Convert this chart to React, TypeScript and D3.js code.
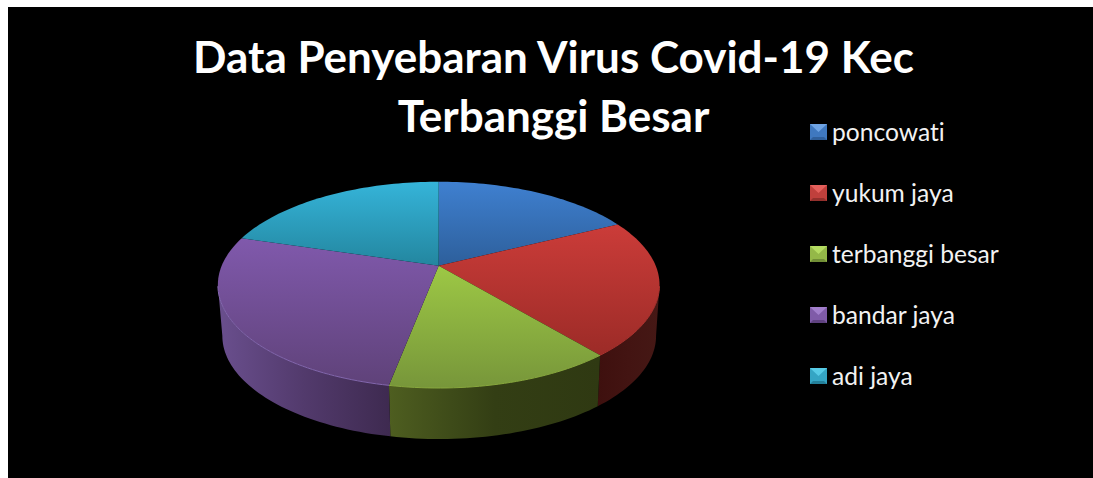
import React from 'react';
import * as d3 from 'd3';

const categories = ['poncowati', 'yukum jaya', 'terbanggi besar', 'bandar jaya', 'adi jaya'];
const shares = [17.6, 21.4, 14.0, 26.7, 20.3];
const titleLines = ['Data Penyebaran Virus Covid-19 Kec', 'Terbanggi Besar'];

// top face gradient (light, dark), side wall gradient (left, middle, right), legend tile
const topColors = [['#3f80d0', '#2d5f9b'], ['#cb3c39', '#9c2b27'], ['#9dc845', '#77963a'], ['#8059ac', '#5f4279'], ['#35b4d9', '#23869f']];
const sideColors = [['#1d3557', '#1d3557', '#1d3557'], ['#3e100e', '#431412', '#451815'], ['#4e5e20', '#333e14', '#2f3912'], ['#6a4f8e', '#523a6c', '#3e2a50'], ['#1a5566', '#1a5566', '#1a5566']];
const rimColors = ['#3f80d0', '#a8322e', '#88a83e', '#8367ae', '#35b4d9'];
const legendColors = [['#6fa4e4', '#3f78bf', '#2f5f9b'], ['#e4605c', '#c0403c', '#93302c'], ['#b5dc62', '#94b848', '#718e36'], ['#a27fcc', '#7f5ba8', '#5f4280'], ['#58cbe6', '#35a5c4', '#23809a']];

const width = 1093;
const height = 478;

// the pie is a 3D disc, so rim points go through a perspective mapping
const cx = 438.7;
const apexY = 265.7;
const persp = -0.1857;
const scaleX = 217;
const scaleY = 99.6;
const depth = 51;
const baseShrink = 0.982;
// angle at which the rim is widest on screen, the wall starts there
const wallStart = Math.acos(persp);

function topPoint(angle: number): [number, number] {
  const u = Math.sin(angle);
  const v = -Math.cos(angle);
  const w = 1 + persp * v;
  return [cx + (scaleX * u) / w, apexY + (scaleY * v) / w];
}

function basePoint(angle: number): [number, number] {
  const u = Math.sin(angle);
  const v = -Math.cos(angle);
  const w = 1 + persp * v;
  return [cx + 0.5 + (baseShrink * scaleX * u) / w, apexY + depth + (scaleY * v) / w];
}

const line = d3.line();
const pie = d3.pie<number>().sort(null)(shares);

function sampleAngles(a0: number, a1: number) {
  const n = Math.max(2, Math.ceil((a1 - a0) * 40));
  return d3.range(n + 1).map((i) => a0 + ((a1 - a0) * i) / n);
}

function topPath(a0: number, a1: number) {
  const rim = sampleAngles(a0, a1).map(topPoint);
  return line([[cx, apexY], ...rim]) + 'Z';
}

function sidePath(a0: number, a1: number) {
  // only the front of the wall can be seen
  const from = Math.max(a0, wallStart);
  const to = Math.min(a1, 2 * Math.PI - wallStart);
  if (to <= from) return null;
  const angles = sampleAngles(from, to);
  return line([...angles.map(topPoint), ...angles.slice().reverse().map(basePoint)]) + 'Z';
}

function rimPath(a0: number, a1: number) {
  const from = Math.max(a0, Math.PI / 2 + 0.2);
  const to = Math.min(a1, (3 * Math.PI) / 2 - 0.2);
  if (to <= from) return null;
  return line(sampleAngles(from, to).map(topPoint)) as string;
}

const legendY = d3.scalePoint<string>().domain(categories).range([133, 377]);

const fontFamily = "Lato, 'Open Sans', sans-serif";

export default function App() {
  return (
    <svg width={width} height={height} style={{ position: 'absolute', left: 0, top: 0, fontVariantLigatures: 'none' }}>
      <defs>
        {pie.map((s, i) => (
          <React.Fragment key={i}>
            <linearGradient id={`top${i}`} x1="0" y1="0" x2="0" y2="1">
              <stop offset="0" stopColor={topColors[i][0]} />
              <stop offset="1" stopColor={topColors[i][1]} />
            </linearGradient>
            <linearGradient id={`side${i}`} x1="0" y1="0" x2="1" y2="0">
              <stop offset="0" stopColor={sideColors[i][0]} />
              <stop offset="0.5" stopColor={sideColors[i][1]} />
              <stop offset="1" stopColor={sideColors[i][2]} />
            </linearGradient>
          </React.Fragment>
        ))}
      </defs>
      <rect x={0} y={0} width={width} height={height} fill="#fff" />
      <rect x={8} y={7} width={width - 8} height={height - 7} fill="#000" />

      {pie.map((s, i) => {
        const d = sidePath(s.startAngle, s.endAngle);
        return d ? <path key={i} d={d} fill={`url(#side${i})`} /> : null;
      })}
      {pie.map((s, i) => (
        <path key={i} d={topPath(s.startAngle, s.endAngle)} fill={`url(#top${i})`} />
      ))}
      {pie.map((s, i) => {
        const d = rimPath(s.startAngle, s.endAngle);
        return d ? <path key={i} d={d} fill="none" stroke={rimColors[i]} strokeWidth={1} /> : null;
      })}

      <g fontFamily={fontFamily} fontWeight={700} fontSize={44} fill="#fff" textAnchor="middle">
        {titleLines.map((t, i) => (
          <text key={t} x={553.5} y={73 + i * 59}>{t}</text>
        ))}
      </g>

      {categories.map((c, i) => {
        const y = legendY(c) as number;
        const [light, mid, dark] = legendColors[i];
        const x0 = 810, x1 = 827, y0 = y - 9, y1 = y + 7, ix0 = x0 + 3, ix1 = x1 - 3, iy2 = y1 - 3;
        return (
          <g key={c}>
            <rect x={x0} y={y0} width={x1 - x0} height={y1 - y0} fill={mid} />
            <path d={line([[x0, y0], [x1, y0], [(x0 + x1) / 2, y0 + 8]]) + 'Z'} fill={light} />
            <path d={line([[x0, y1], [x1, y1], [ix1, iy2], [ix0, iy2]]) + 'Z'} fill={dark} />
            <text x={832} y={y + 7.5} fontFamily={fontFamily} fontSize={24.6} fill="#f2f2f2">{c}</text>
          </g>
        );
      })}
    </svg>
  );
}
